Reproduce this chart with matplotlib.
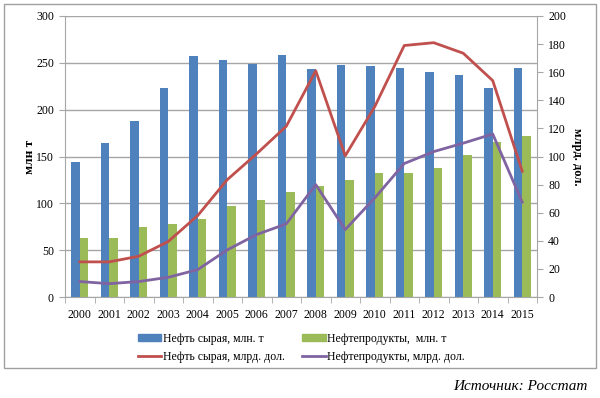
#
# Export of crude oil and oil products, Russia 2000-2015
#
import numpy as np
from matplotlib import pyplot as plt
from matplotlib.patches import Rectangle
from matplotlib.lines import Line2D
#
# Data
years = ['2000', '2001', '2002', '2003', '2004', '2005', '2006', '2007',
         '2008', '2009', '2010', '2011', '2012', '2013', '2014', '2015']
crude_mt = [144, 164.5, 187.5, 223.5, 257.5, 252.5, 248.5, 258.5,
            243.5, 247.5, 247, 244.5, 240, 236.5, 223.5, 244.5]
products_mt = [62.5, 63.5, 75, 78, 83, 97, 103.5, 112.5,
               118, 124.5, 132, 132, 138, 151.5, 165, 172]
crude_usd = [25, 25, 29, 39.5, 58, 83.5, 102, 121.5,
             161, 100.5, 135.5, 179, 181, 173.5, 154, 89.5]
products_usd = [11, 9.5, 11, 14, 19.5, 33.5, 44.5, 52,
                80, 48, 70.5, 95, 103.5, 109.5, 116, 67.5]
#
blue = '#4F81BD'
green = '#9BBB59'
red = '#C0504D'
purple = '#8064A2'
grid_col = '#A6A6A6'
serif = ['Liberation Serif', 'DejaVu Serif']
#
fig = plt.figure(figsize = (6.0, 3.98), dpi = 100)
fig.patches.append(Rectangle((4 / 600, 30 / 398), 592 / 600, 364 / 398,
                             transform = fig.transFigure, fill = False,
                             edgecolor = '#A0A0A0', linewidth = 1.0))
#
ax1 = fig.add_axes([65 / 600, 101 / 398, 472 / 600, 281 / 398])
x = np.arange(len(years))
w = 0.29
ax1.bar(x - w / 2, crude_mt, width = w, color = blue, zorder = 2)
ax1.bar(x + w / 2, products_mt, width = w, color = green, zorder = 2)
ax1.set_ylim(0, 300)
ax1.set_xlim(-0.5, len(years) - 0.5)
ax1.set_yticks(np.arange(0, 301, 50))
ax1.yaxis.grid(True, color = grid_col, linewidth = 1.0, zorder = 0)
ax1.set_axisbelow(True)
ax1.set_xticks(x)
ax1.set_xticklabels(years, fontfamily = serif, fontsize = 8.5)
ax1.set_xticks(np.arange(-0.5, len(years), 1.0), minor = True)
ax1.tick_params(axis = 'x', which = 'major', length = 0, pad = 9)
ax1.tick_params(axis = 'x', which = 'minor', length = 4, color = grid_col,
                direction = 'out')
ax1.tick_params(axis = 'y', length = 4, color = grid_col, direction = 'out',
                labelsize = 8.5, pad = 4)
for lab in ax1.get_yticklabels():
    lab.set_fontfamily(serif)
for s in ['top', 'right']:
    ax1.spines[s].set_visible(False)
for s in ['left', 'bottom']:
    ax1.spines[s].set_color(grid_col)
ax1.set_ylabel('млн т', fontfamily = serif, fontsize = 9.5,
               fontweight = 'bold', labelpad = 0)
ax1.yaxis.set_label_coords(-0.062, 0.5)
#
ax2 = ax1.twinx()
ax2.plot(x, crude_usd, color = red, linewidth = 2.0, zorder = 3)
ax2.plot(x, products_usd, color = purple, linewidth = 2.0, zorder = 3)
ax2.set_ylim(0, 200)
ax2.set_yticks(np.arange(0, 201, 20))
ax2.tick_params(axis = 'y', length = 4, color = grid_col, direction = 'out',
                labelsize = 8.5, pad = 4)
for lab in ax2.get_yticklabels():
    lab.set_fontfamily(serif)
for s in ['top', 'left', 'bottom']:
    ax2.spines[s].set_visible(False)
ax2.spines['right'].set_color(grid_col)
ax2.set_ylabel('млрд. дол.', fontfamily = serif, fontsize = 9,
               fontweight = 'bold', rotation = 270, labelpad = 12)
#
# Legend, two by two
handles = [Rectangle((0, 0), 1, 1, color = blue),
           Rectangle((0, 0), 1, 1, color = green),
           Line2D([], [], color = red, linewidth = 2.0),
           Line2D([], [], color = purple, linewidth = 2.0)]
labels = ['Нефть сырая, млн. т', 'Нефтепродукты,  млн. т',
          'Нефть сырая, млрд. дол.', 'Нефтепродукты, млрд. дол.']
order = [0, 2, 1, 3]
fig.legend([handles[i] for i in order], [labels[i] for i in order],
           ncol = 2, loc = 'upper left', bbox_to_anchor = (133 / 600, 1 - 328 / 398),
           frameon = False, prop = {'family': serif, 'size': 8.5},
           handlelength = 2.0, handleheight = 0.5, handletextpad = 0.1,
           columnspacing = 1.5, labelspacing = 0.55, borderaxespad = 0)
#
fig.text(588 / 600, 1 - 386 / 398, 'Источник: Росстат', ha = 'right',
         va = 'center', fontfamily = serif, fontstyle = 'italic', fontsize = 11)
#
fig.savefig('out.png', dpi = 100)
